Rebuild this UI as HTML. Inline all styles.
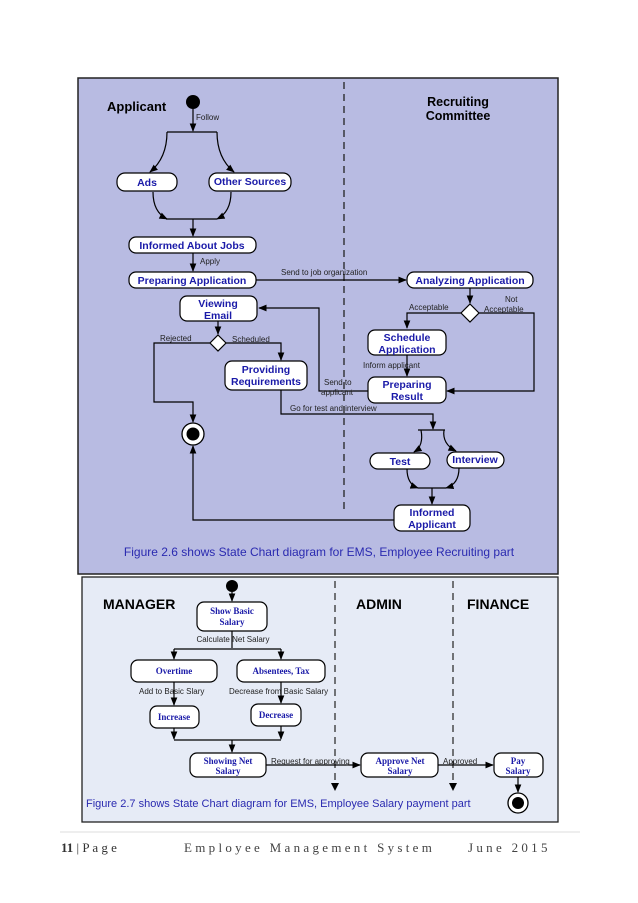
<!DOCTYPE html>
<html><head><meta charset="utf-8"><style>
html,body{margin:0;padding:0;background:#fff;}
svg{display:block;}
.n{fill:#fff;stroke:#000;stroke-width:1.2;}
.t{font-family:"Liberation Sans",sans-serif;font-weight:bold;font-size:10.5px;fill:#1a1aa8;text-anchor:middle;}
.s{font-family:"Liberation Serif",serif;font-weight:bold;font-size:9px;fill:#1a1aa8;text-anchor:middle;}
.l{font-family:"Liberation Sans",sans-serif;font-size:8px;fill:#222;}
.h{font-family:"Liberation Sans",sans-serif;font-weight:bold;fill:#000;}
.ln{fill:none;stroke:#000;stroke-width:1.2;}
</style></head><body>
<svg width="638" height="903" viewBox="0 0 638 903" xmlns="http://www.w3.org/2000/svg">
<defs>
<marker id="a" viewBox="0 0 10 10" refX="9" refY="5" markerWidth="7" markerHeight="7" orient="auto"><path d="M0,1 L10,5 L0,9 z" fill="#000"/></marker>
</defs>
<!-- top box -->
<rect x="78" y="78" width="480" height="496" fill="#b8bbe2" stroke="#222" stroke-width="1.5"/>
<line x1="344" y1="82" x2="344" y2="512" stroke="#222" stroke-width="1.3" stroke-dasharray="7,5"/>
<text class="h" x="107" y="111" font-size="13">Applicant</text>
<text class="h" x="458" y="106" font-size="12.5" text-anchor="middle">Recruiting</text>
<text class="h" x="458" y="120" font-size="12.5" text-anchor="middle">Committee</text>
<circle cx="193" cy="102" r="7" fill="#000"/>
<line class="ln" x1="193" y1="109" x2="193" y2="131" marker-end="url(#a)"/>
<text class="l" x="196" y="120">Follow</text>
<line class="ln" x1="167" y1="132" x2="217" y2="132"/>
<path class="ln" d="M167,132 Q167,158 150,172" marker-end="url(#a)"/>
<path class="ln" d="M217,132 Q217,158 234,172" marker-end="url(#a)"/>
<rect class="n" x="117" y="173" width="60" height="18" rx="8"/>
<text class="t" x="147" y="186">Ads</text>
<rect class="n" x="209" y="173" width="82" height="18" rx="8"/>
<text class="t" x="250" y="185">Other Sources</text>
<path class="ln" d="M153,192 Q153,212 167,219" marker-end="url(#a)"/>
<path class="ln" d="M231,192 Q231,212 217,219" marker-end="url(#a)"/>
<line class="ln" x1="166" y1="219" x2="217" y2="219"/>
<line class="ln" x1="193" y1="219" x2="193" y2="236" marker-end="url(#a)"/>
<rect class="n" x="129" y="237" width="127" height="16" rx="7"/>
<text class="t" x="192" y="249">Informed About Jobs</text>
<line class="ln" x1="193" y1="253" x2="193" y2="271" marker-end="url(#a)"/>
<text class="l" x="200" y="264">Apply</text>
<rect class="n" x="129" y="272" width="127" height="16" rx="7"/>
<text class="t" x="192" y="284">Preparing Application</text>
<line class="ln" x1="256" y1="280" x2="406" y2="280" marker-end="url(#a)"/>
<text class="l" x="281" y="275">Send to job organization</text>
<rect class="n" x="407" y="272" width="126" height="16" rx="7"/>
<text class="t" x="470" y="284">Analyzing Application</text>
<line class="ln" x1="470" y1="288" x2="470" y2="303" marker-end="url(#a)"/>
<path d="M470,304 L479,313 L470,322 L461,313 z" fill="#fff" stroke="#000" stroke-width="1.2"/>
<text class="l" x="409" y="310">Acceptable</text>
<text class="l" x="505" y="302">Not</text>
<text class="l" x="484" y="312">Acceptable</text>
<path class="ln" d="M461,313 L407,313 L407,328" marker-end="url(#a)"/>
<path class="ln" d="M479,313 L534,313 L534,391 L447,391" marker-end="url(#a)"/>
<rect class="n" x="368" y="330" width="78" height="25" rx="7"/>
<text class="t" x="407" y="341">Schedule</text>
<text class="t" x="407" y="353">Application</text>
<line class="ln" x1="407" y1="355" x2="407" y2="376" marker-end="url(#a)"/>
<text class="l" x="363" y="368">Inform applicant</text>
<rect class="n" x="368" y="377" width="78" height="26" rx="7"/>
<text class="t" x="407" y="388">Preparing</text>
<text class="t" x="407" y="400">Result</text>
<path class="ln" d="M368,391 L319,391 L319,308 L259,308" marker-end="url(#a)"/>
<text class="l" x="324" y="385">Send to</text>
<text class="l" x="321" y="395">applicant</text>
<rect class="n" x="180" y="296" width="77" height="25" rx="7"/>
<text class="t" x="218" y="307">Viewing</text>
<text class="t" x="218" y="319">Email</text>
<line class="ln" x1="218" y1="321" x2="218" y2="334" marker-end="url(#a)"/>
<path d="M218,335 L226,343 L218,351 L210,343 z" fill="#fff" stroke="#000" stroke-width="1.2"/>
<text class="l" x="160" y="341">Rejected</text>
<text class="l" x="232" y="342">Scheduled</text>
<path class="ln" d="M210,343 L154,343 L154,402 L193,402 L193,422" marker-end="url(#a)"/>
<path class="ln" d="M226,343 L281,343 L281,360" marker-end="url(#a)"/>
<rect class="n" x="225" y="361" width="82" height="29" rx="7"/>
<text class="t" x="266" y="373">Providing</text>
<text class="t" x="266" y="385">Requirements</text>
<circle cx="193" cy="434" r="11" fill="#fff" stroke="#000" stroke-width="1.3"/>
<circle cx="193" cy="434" r="6.5" fill="#000"/>
<path class="ln" d="M281,390 L281,414 L433,414 L433,429" marker-end="url(#a)"/>
<text class="l" x="290" y="411">Go for test and interview</text>
<line class="ln" x1="418" y1="430" x2="445" y2="430"/>
<path class="ln" d="M421,430 Q424,446 414,452" marker-end="url(#a)"/>
<path class="ln" d="M444,430 Q442,444 456,451" marker-end="url(#a)"/>
<rect class="n" x="370" y="453" width="60" height="16" rx="8"/>
<text class="t" x="400" y="465">Test</text>
<rect class="n" x="447" y="452" width="57" height="16" rx="8"/>
<text class="t" x="475" y="463">Interview</text>
<path class="ln" d="M407,469 Q407,484 418,488" marker-end="url(#a)"/>
<path class="ln" d="M459,468 Q459,484 446,488" marker-end="url(#a)"/>
<line class="ln" x1="418" y1="488" x2="446" y2="488"/>
<line class="ln" x1="432" y1="488" x2="432" y2="504" marker-end="url(#a)"/>
<rect class="n" x="394" y="505" width="76" height="26" rx="7"/>
<text class="t" x="432" y="516">Informed</text>
<text class="t" x="432" y="528">Applicant</text>
<path class="ln" d="M394,520 L193,520 L193,446" marker-end="url(#a)"/>
<text x="319" y="556" font-family="Liberation Sans,sans-serif" font-size="12" fill="#2a2ab0" text-anchor="middle">Figure 2.6 shows State Chart diagram for EMS, Employee Recruiting part</text>
<!-- bottom box -->
<rect x="82" y="577" width="476" height="245" fill="#e6ebf6" stroke="#222" stroke-width="1.3"/>
<line x1="335" y1="581" x2="335" y2="784" stroke="#222" stroke-width="1.2" stroke-dasharray="7,5"/>
<line x1="453" y1="581" x2="453" y2="784" stroke="#222" stroke-width="1.2" stroke-dasharray="7,5"/>
<path d="M331,783 L339,783 L335,791 z" fill="#000"/>
<path d="M449,783 L457,783 L453,791 z" fill="#000"/>
<text class="h" x="103" y="609" font-size="14">MANAGER</text>
<text class="h" x="356" y="609" font-size="14">ADMIN</text>
<text class="h" x="467" y="609" font-size="14">FINANCE</text>
<circle cx="232" cy="586" r="6" fill="#000"/>
<line class="ln" x1="232" y1="592" x2="232" y2="601" marker-end="url(#a)"/>
<rect class="n" x="197" y="602" width="70" height="29" rx="7"/>
<text class="s" x="232" y="614">Show Basic</text>
<text class="s" x="232" y="625">Salary</text>
<line class="ln" x1="232" y1="631" x2="232" y2="648"/>
<text class="l" x="233" y="642" text-anchor="middle">Calculate Net Salary</text>
<line class="ln" x1="174" y1="649" x2="281" y2="649"/>
<line class="ln" x1="174" y1="649" x2="174" y2="659" marker-end="url(#a)"/>
<line class="ln" x1="281" y1="649" x2="281" y2="659" marker-end="url(#a)"/>
<rect class="n" x="131" y="660" width="86" height="22" rx="7"/>
<text class="s" x="174" y="674">Overtime</text>
<rect class="n" x="237" y="660" width="88" height="22" rx="7"/>
<text class="s" x="281" y="674">Absentees, Tax</text>
<line class="ln" x1="174" y1="682" x2="174" y2="705" marker-end="url(#a)"/>
<line class="ln" x1="281" y1="682" x2="281" y2="703" marker-end="url(#a)"/>
<text class="l" x="139" y="694">Add to Basic Slary</text>
<text class="l" x="229" y="694">Decrease from Basic Salary</text>
<rect class="n" x="150" y="706" width="49" height="22" rx="7"/>
<text class="s" x="174" y="720">Increase</text>
<rect class="n" x="251" y="704" width="50" height="22" rx="7"/>
<text class="s" x="276" y="718">Decrease</text>
<line class="ln" x1="174" y1="728" x2="174" y2="739" marker-end="url(#a)"/>
<line class="ln" x1="281" y1="726" x2="281" y2="739" marker-end="url(#a)"/>
<line class="ln" x1="174" y1="740" x2="281" y2="740"/>
<line class="ln" x1="232" y1="740" x2="232" y2="752" marker-end="url(#a)"/>
<rect class="n" x="190" y="753" width="76" height="24" rx="7"/>
<text class="s" x="228" y="764">Showing Net</text>
<text class="s" x="228" y="774">Salary</text>
<line class="ln" x1="266" y1="765" x2="360" y2="765" marker-end="url(#a)"/>
<text class="l" x="271" y="764">Request for approving</text>
<rect class="n" x="361" y="753" width="77" height="24" rx="7"/>
<text class="s" x="400" y="764">Approve Net</text>
<text class="s" x="400" y="774">Salary</text>
<line class="ln" x1="438" y1="765" x2="493" y2="765" marker-end="url(#a)"/>
<text class="l" x="443" y="764">Approved</text>
<rect class="n" x="494" y="753" width="49" height="24" rx="7"/>
<text class="s" x="518" y="764">Pay</text>
<text class="s" x="518" y="774">Salary</text>
<line class="ln" x1="518" y1="777" x2="518" y2="792" marker-end="url(#a)"/>
<circle cx="518" cy="803" r="10" fill="#fff" stroke="#000" stroke-width="1.3"/>
<circle cx="518" cy="803" r="6" fill="#000"/>
<text x="86" y="807" font-family="Liberation Sans,sans-serif" font-size="11" fill="#2a2ab0">Figure 2.7 shows State Chart diagram for EMS, Employee Salary payment part</text>
<!-- footer -->
<line x1="60" y1="832" x2="580" y2="832" stroke="#ddd" stroke-width="1"/>
<text x="61" y="852" font-family="Liberation Serif,serif" font-size="13" fill="#333"><tspan font-weight="bold">11</tspan><tspan> | P a g e</tspan></text>
<text x="184" y="852" font-family="Liberation Serif,serif" font-size="13" fill="#444" letter-spacing="3.3">Employee Management System</text>
<text x="468" y="852" font-family="Liberation Serif,serif" font-size="13" fill="#444" letter-spacing="3.3">June 2015</text>
</svg>
</body></html>
